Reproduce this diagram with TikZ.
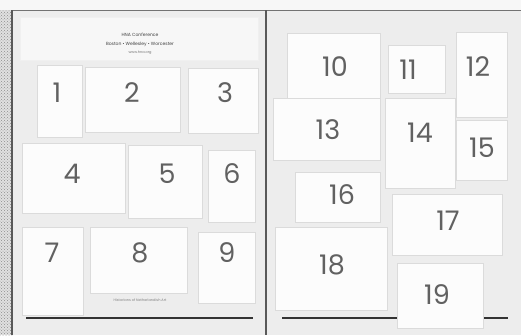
\documentclass[tikz,border=0pt]{standalone}
\usepackage{fontspec}
\newfontfamily\numfont{Poppins}
\usetikzlibrary{patterns}
\tikzset{
  page/.style={fill=black!7, draw=none},
  region/.style={fill=black!1, draw=black!14, line width=0.6pt},
  num/.style={font=\numfont\fontsize{27}{27}\selectfont, text=black!62, inner sep=0pt},
  title/.style={font=\numfont\fontsize{4.5}{5}\selectfont, text=black!75, inner sep=0pt},
  bar/.style={line width=2.6pt, black!80},
  frame/.style={line width=1.6pt, black!65}
}
\begin{document}
\begin{tikzpicture}[x=1pt, y=-1pt]
    \useasboundingbox (0,0) rectangle (521,335);
    % paper and strip
    \fill[black!3] (0,0) rectangle (521,335);
    \fill[black!12] (0,10) rectangle (12,335);
    \fill[pattern=crosshatch dots, pattern color=black!45] (0,10) rectangle (12,335);
    \fill[page] (12,10) rectangle (521,335);
    % left page
    \draw[region, draw=black!6, fill=black!3] (20,17) rectangle (258,60);
    \node[title] (t1) at (140,35) {HNA Conference};
    \node[title] (t2) at (140,44) {Boston \textbullet{} Wellesley \textbullet{} Worcester};
    \node[title, text=black!55, font=\numfont\fontsize{3.5}{4}\selectfont] (t3) at (140,53) {www.hna.org};
    \draw[region] (37,65) rectangle (82,137);
    \node[num] (n1) at (57,93) {1};
    \draw[region] (85,67) rectangle (180,132);
    \node[num] (n2) at (132,93) {2};
    \draw[region] (188,68) rectangle (258,133);
    \node[num] (n3) at (225,93) {3};
    \draw[region] (22,143) rectangle (125,213);
    \node[num] (n4) at (72,174) {4};
    \draw[region] (128,145) rectangle (202,218);
    \node[num] (n5) at (167,174) {5};
    \draw[region] (208,150) rectangle (255,222);
    \node[num] (n6) at (232,174) {6};
    \draw[region] (22,227) rectangle (83,315);
    \node[num] (n7) at (52,253) {7};
    \draw[region] (90,227) rectangle (187,293);
    \node[num] (n8) at (140,253) {8};
    \draw[region] (198,232) rectangle (255,303);
    \node[num] (n9) at (227,253) {9};
    \node[title, text=black!50, font=\numfont\fontsize{3.5}{4}\selectfont] (cap) at (140,300) {Historians of Netherlandish Art};
    \draw[bar] (26,318) -- (253,318);
    % right page
    \draw[region] (287,33) rectangle (380,100);
    \node[num] (n10) at (335,67) {10};
    \draw[region] (388,45) rectangle (445,93);
    \node[num] (n11) at (408,70) {11};
    \draw[region] (456,32) rectangle (507,117);
    \node[num] (n12) at (478,67) {12};
    \draw[region] (273,98) rectangle (380,160);
    \node[num] (n13) at (328,130) {13};
    \draw[region] (385,98) rectangle (455,188);
    \node[num] (n14) at (420,133) {14};
    \draw[region] (456,120) rectangle (507,180);
    \node[num] (n15) at (482,148) {15};
    \draw[region] (295,172) rectangle (380,222);
    \node[num] (n16) at (342,195) {16};
    \draw[region] (392,194) rectangle (502,255);
    \node[num] (n17) at (448,221) {17};
    \draw[region] (275,227) rectangle (387,310);
    \node[num] (n18) at (332,265) {18};
    \draw[bar] (282,318) -- (508,318);
    \draw[region] (397,263) rectangle (483,328);
    \node[num] (n19) at (437,295) {19};
    % page frame
    \draw[line width=1pt, black!55] (12,10) -- (521,10);
    \draw[frame] (12,10) -- (12,335);
    \draw[frame] (266,10) -- (266,335);
\end{tikzpicture}
\end{document}
